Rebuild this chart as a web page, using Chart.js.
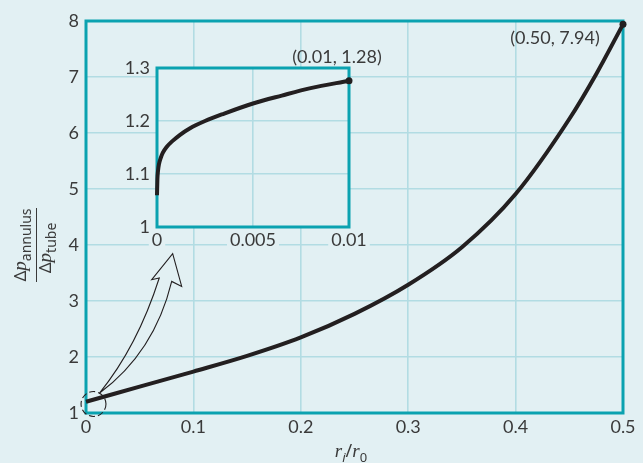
<!DOCTYPE html>
<html>
<head>
<meta charset="utf-8">
<script src="https://cdn.jsdelivr.net/npm/chart.js@4.4.1/dist/chart.umd.min.js"></script>
<style>
  html, body { margin: 0; padding: 0; background: #e2f0f3; }
  #wrap { position: relative; width: 643px; height: 463px; }
  #main { position: absolute; left: 0; top: 0; }
  #inset { position: absolute; left: 100px; top: 40px; }
</style>
</head>
<body>
<div id="wrap">
  <canvas id="main" width="643" height="463"></canvas>
  <canvas id="inset" width="300" height="215"></canvas>
</div>
<script>
// main curve: pressure-drop ratio against r_i/r_0
const ratio   = [0, 0.05, 0.1, 0.15, 0.2, 0.25, 0.3, 0.35, 0.4, 0.45, 0.475, 0.5];
const dpRatio = [1.2, 1.47, 1.74, 2.02, 2.35, 2.77, 3.29, 3.96, 4.91, 6.25, 7.05, 7.94];

// inset: close-up of small r_i/r_0
const insetRatio = [0, 0.00002, 0.00005, 0.0001, 0.0002, 0.0003, 0.0005, 0.0008, 0.0012, 0.0017, 0.0025, 0.0035, 0.005, 0.0065, 0.008, 0.01];
const insetDp    = [1.06, 1.09, 1.105, 1.118, 1.131, 1.14, 1.151, 1.162, 1.174, 1.186, 1.2, 1.214, 1.233, 1.248, 1.262, 1.276];

const mainXLabels  = ['0', '0.1', '0.2', '0.3', '0.4', '0.5'];
const mainYLabels  = ['1', '2', '3', '4', '5', '6', '7', '8'];
const insetXLabels = ['0', '0.005', '0.01'];
const insetYLabels = ['1', '1.1', '1.2', '1.3'];

const mainEndLabel  = '(0.50, 7.94)';
const insetEndLabel = '(0.01, 1.28)';

// hollow arrow + dashed circle, in main-chart data units
const arrowShape = {
  base: [0.0124, 1.352],
  leftCtrl: [0.0479, 2.19], leftIn: [0.0682, 3.41], leftBarb: [0.0612, 3.38],
  tip: [0.0807, 3.845],
  rightBarb: [0.0891, 3.26], rightIn: [0.0798, 3.35], rightCtrl: [0.0637, 2.08]
};
const zoomCircle = { x: 0.007, y: 1.161, r: 0.0116 };

const BG = '#e2f0f3';
const GRID = '#b2dce3';
const TEAL = '#0ba2b0';
const INK = '#231f20';
const TXT = '#3a3a3a';
const TICK_FONT = { family: 'Lato', size: 18 };

const pts = (xs, ys) => xs.map((x, i) => ({ x, y: ys[i] }));

const frame = {
  id: 'frame',
  beforeDraw(chart) {
    const { ctx, chartArea: a } = chart;
    ctx.save();
    ctx.fillStyle = BG;
    ctx.fillRect(a.left, a.top, a.right - a.left, a.bottom - a.top);
    ctx.restore();
  },
  beforeDatasetsDraw(chart) {
    const { ctx, chartArea: a } = chart;
    ctx.save();
    ctx.strokeStyle = TEAL;
    ctx.lineWidth = 3;
    ctx.strokeRect(a.left, a.top, a.right - a.left, a.bottom - a.top);
    ctx.restore();
  }
};

// masks the main grid behind the inset's x tick labels
const labelMask = {
  id: 'labelMask',
  beforeDraw(chart) {
    const { ctx, scales, chartArea: a } = chart;
    ctx.save();
    ctx.font = '18px Lato';
    ctx.fillStyle = BG;
    scales.x.ticks.forEach((t, i) => {
      const w = ctx.measureText(insetXLabels[i]).width + 6;
      const px = scales.x.getPixelForValue(t.value);
      ctx.fillRect(px - w / 2, a.bottom + 3, w, 20);
    });
    ctx.restore();
  }
};

function endLabel(text, dx, dy) {
  return {
    id: 'endLabel',
    afterDatasetsDraw(chart) {
      const { ctx, scales } = chart;
      const d = chart.data.datasets[1].data[0];
      const px = scales.x.getPixelForValue(d.x), py = scales.y.getPixelForValue(d.y);
      ctx.save();
      ctx.font = '18px Lato';
      ctx.fillStyle = TXT;
      ctx.textAlign = 'center';
      ctx.textBaseline = 'middle';
      ctx.fillText(text, px + dx, py + dy);
      ctx.restore();
    }
  };
}

function drawRuns(ctx, runs, x, y) {
  let w = 0;
  runs.forEach(r => { ctx.font = r[1]; w += ctx.measureText(r[0]).width; });
  let cx = x - w / 2;
  runs.forEach(r => {
    ctx.font = r[1];
    ctx.fillText(r[0], cx, y + r[2]);
    cx += ctx.measureText(r[0]).width;
  });
}

const titles = {
  id: 'titles',
  afterDraw(chart) {
    const ctx = chart.ctx;
    const main = 'italic 19px "Liberation Serif"';
    const sym = '17px "Noto Sans"';
    const sub = '14px "Noto Sans"';
    ctx.save();
    ctx.fillStyle = TXT;
    ctx.strokeStyle = TXT;
    ctx.textAlign = 'left';
    ctx.textBaseline = 'alphabetic';
    // x title r_i / r_0
    drawRuns(ctx, [
      ['r', main, 0], ['i', 'italic 13px "Noto Sans"', 5],
      ['/', '18px "Noto Sans"', 0],
      ['r', main, 0], ['0', '13px "Noto Sans"', 5]
    ], 351, 457);
    // y title as fraction, rotated
    ctx.translate(36.5, 245);
    ctx.rotate(-Math.PI / 2);
    drawRuns(ctx, [['\u0394', sym, 0], ['p', main, 0], ['annulus', sub, 5]], 0, -10.5);
    drawRuns(ctx, [['\u0394', sym, 0], ['p', main, 0], ['tube', sub, 5]], -3, 14);
    ctx.lineWidth = 1;
    ctx.beginPath();
    ctx.moveTo(-37, 0);
    ctx.lineTo(37, 0);
    ctx.stroke();
    ctx.restore();
  }
};

const arrow = {
  id: 'arrow',
  afterDatasetsDraw(chart) {
    const { ctx, scales } = chart;
    const P = p => [scales.x.getPixelForValue(p[0]), scales.y.getPixelForValue(p[1])];
    const s = arrowShape;
    const b = P(s.base), lc = P(s.leftCtrl), li = P(s.leftIn), lb = P(s.leftBarb), t = P(s.tip);
    const rb = P(s.rightBarb), ri = P(s.rightIn), rc = P(s.rightCtrl);
    ctx.save();
    ctx.strokeStyle = INK;
    ctx.lineWidth = 1.1;
    ctx.lineJoin = 'miter';
    ctx.beginPath();
    ctx.moveTo(b[0], b[1]);
    ctx.quadraticCurveTo(lc[0], lc[1], li[0], li[1]);
    ctx.lineTo(lb[0], lb[1]);
    ctx.lineTo(t[0], t[1]);
    ctx.lineTo(rb[0], rb[1]);
    ctx.lineTo(ri[0], ri[1]);
    ctx.quadraticCurveTo(rc[0], rc[1], b[0], b[1]);
    ctx.stroke();
    // dashed circle around the origin
    const c = P([zoomCircle.x, zoomCircle.y]);
    const r = scales.x.getPixelForValue(zoomCircle.r) - scales.x.getPixelForValue(0);
    ctx.setLineDash([6, 3]);
    ctx.beginPath();
    ctx.arc(c[0], c[1], r, 0, Math.PI * 2);
    ctx.stroke();
    ctx.restore();
  }
};

function axisOpts(min, max, step, labels, fit, padding, horizontal) {
  return {
    type: 'linear',
    min, max,
    grid: { color: GRID, lineWidth: 1.6, drawTicks: false },
    border: { display: false },
    ticks: {
      stepSize: step,
      padding,
      color: TXT,
      font: TICK_FONT,
      maxRotation: 0,
      autoSkip: false,
      callback: (v, i) => labels[i]
    },
    afterFit: s => { if (horizontal) s.height = fit; else s.width = fit; }
  };
}

function curveSets(xs, ys) {
  return [
    {
      data: pts(xs, ys),
      showLine: true,
      borderColor: INK,
      borderWidth: 4,
      pointRadius: 0,
      cubicInterpolationMode: 'monotone',
      clip: false
    },
    {
      data: pts(xs.slice(-1), ys.slice(-1)),
      pointRadius: 3.5,
      pointBackgroundColor: INK,
      pointBorderWidth: 0,
      clip: false
    }
  ];
}

new Chart(document.getElementById('main'), {
  type: 'scatter',
  data: { datasets: curveSets(ratio, dpRatio) },
  options: {
    responsive: false,
    animation: false,
    layout: { padding: { left: 0, right: 20, top: 21, bottom: 0 } },
    plugins: { legend: { display: false }, tooltip: { enabled: false } },
    scales: {
      x: axisOpts(0, 0.5, 0.1, mainXLabels, 50, 3, true),
      y: axisOpts(1, 8, 1, mainYLabels, 86, 7, false)
    }
  },
  plugins: [frame, endLabel(mainEndLabel, -68, 14), arrow, titles]
});

new Chart(document.getElementById('inset'), {
  type: 'scatter',
  data: { datasets: curveSets(insetRatio, insetDp) },
  options: {
    responsive: false,
    animation: false,
    layout: { padding: { left: 0, right: 51, top: 28, bottom: 0 } },
    plugins: { legend: { display: false }, tooltip: { enabled: false } },
    scales: {
      x: axisOpts(0, 0.01, 0.005, insetXLabels, 28, 2, true),
      y: axisOpts(1, 1.3, 0.1, insetYLabels, 57, 7, false)
    }
  },
  plugins: [labelMask, frame, endLabel(insetEndLabel, -12, -24)]
});
</script>
</body>
</html>
